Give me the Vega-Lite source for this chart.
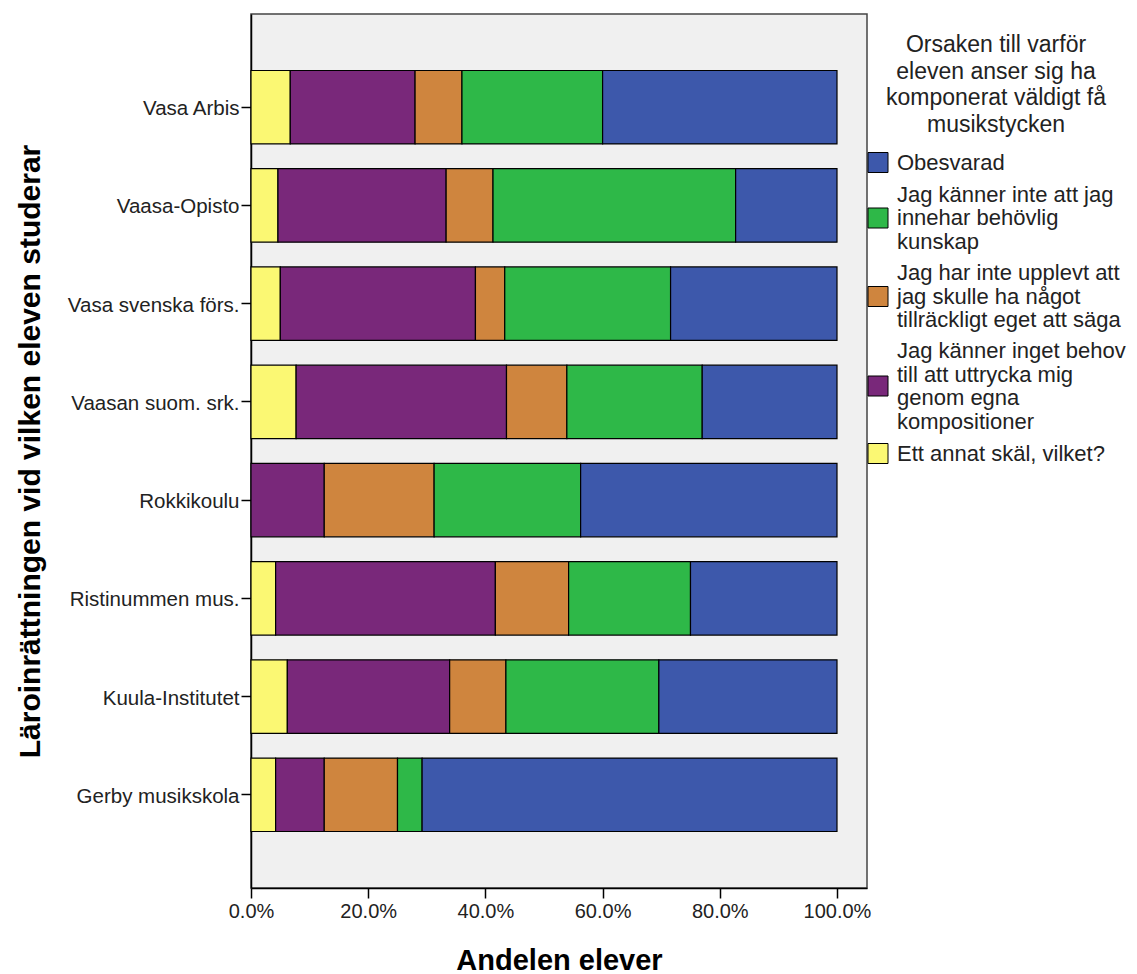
{
  "$schema": "https://vega.github.io/schema/vega-lite/v6.json",
  "width": 616,
  "height": 874,
  "autosize": "none",
  "padding": {"left": 251, "top": 14, "right": 270, "bottom": 86},
  "background": "white",
  "config": {
    "font": "Liberation Sans",
    "view": {"fill": "#F0F0F0", "stroke": "#444444", "strokeWidth": 1.5}
  },
  "data": {
    "values": [
      {"school": "Vasa Arbis", "reason": "Ett annat skäl, vilket?", "percent": 6.7, "stack_rank": 1},
      {"school": "Vasa Arbis", "reason": "Jag känner inget behov till att uttrycka mig genom egna kompositioner", "percent": 21.3, "stack_rank": 2},
      {"school": "Vasa Arbis", "reason": "Jag har inte upplevt att jag skulle ha något tillräckligt eget att säga", "percent": 8.0, "stack_rank": 3},
      {"school": "Vasa Arbis", "reason": "Jag känner inte att jag innehar behövlig kunskap", "percent": 24.0, "stack_rank": 4},
      {"school": "Vasa Arbis", "reason": "Obesvarad", "percent": 40.0, "stack_rank": 5},

      {"school": "Vaasa-Opisto", "reason": "Ett annat skäl, vilket?", "percent": 4.6, "stack_rank": 1},
      {"school": "Vaasa-Opisto", "reason": "Jag känner inget behov till att uttrycka mig genom egna kompositioner", "percent": 28.7, "stack_rank": 2},
      {"school": "Vaasa-Opisto", "reason": "Jag har inte upplevt att jag skulle ha något tillräckligt eget att säga", "percent": 8.0, "stack_rank": 3},
      {"school": "Vaasa-Opisto", "reason": "Jag känner inte att jag innehar behövlig kunskap", "percent": 41.4, "stack_rank": 4},
      {"school": "Vaasa-Opisto", "reason": "Obesvarad", "percent": 17.3, "stack_rank": 5},

      {"school": "Vasa svenska förs.", "reason": "Ett annat skäl, vilket?", "percent": 5.0, "stack_rank": 1},
      {"school": "Vasa svenska förs.", "reason": "Jag känner inget behov till att uttrycka mig genom egna kompositioner", "percent": 33.3, "stack_rank": 2},
      {"school": "Vasa svenska förs.", "reason": "Jag har inte upplevt att jag skulle ha något tillräckligt eget att säga", "percent": 5.0, "stack_rank": 3},
      {"school": "Vasa svenska förs.", "reason": "Jag känner inte att jag innehar behövlig kunskap", "percent": 28.3, "stack_rank": 4},
      {"school": "Vasa svenska förs.", "reason": "Obesvarad", "percent": 28.4, "stack_rank": 5},

      {"school": "Vaasan suom. srk.", "reason": "Ett annat skäl, vilket?", "percent": 7.7, "stack_rank": 1},
      {"school": "Vaasan suom. srk.", "reason": "Jag känner inget behov till att uttrycka mig genom egna kompositioner", "percent": 35.9, "stack_rank": 2},
      {"school": "Vaasan suom. srk.", "reason": "Jag har inte upplevt att jag skulle ha något tillräckligt eget att säga", "percent": 10.3, "stack_rank": 3},
      {"school": "Vaasan suom. srk.", "reason": "Jag känner inte att jag innehar behövlig kunskap", "percent": 23.1, "stack_rank": 4},
      {"school": "Vaasan suom. srk.", "reason": "Obesvarad", "percent": 23.0, "stack_rank": 5},

      {"school": "Rokkikoulu", "reason": "Jag känner inget behov till att uttrycka mig genom egna kompositioner", "percent": 12.5, "stack_rank": 2},
      {"school": "Rokkikoulu", "reason": "Jag har inte upplevt att jag skulle ha något tillräckligt eget att säga", "percent": 18.75, "stack_rank": 3},
      {"school": "Rokkikoulu", "reason": "Jag känner inte att jag innehar behövlig kunskap", "percent": 25.0, "stack_rank": 4},
      {"school": "Rokkikoulu", "reason": "Obesvarad", "percent": 43.75, "stack_rank": 5},

      {"school": "Ristinummen mus.", "reason": "Ett annat skäl, vilket?", "percent": 4.2, "stack_rank": 1},
      {"school": "Ristinummen mus.", "reason": "Jag känner inget behov till att uttrycka mig genom egna kompositioner", "percent": 37.5, "stack_rank": 2},
      {"school": "Ristinummen mus.", "reason": "Jag har inte upplevt att jag skulle ha något tillräckligt eget att säga", "percent": 12.5, "stack_rank": 3},
      {"school": "Ristinummen mus.", "reason": "Jag känner inte att jag innehar behövlig kunskap", "percent": 20.8, "stack_rank": 4},
      {"school": "Ristinummen mus.", "reason": "Obesvarad", "percent": 25.0, "stack_rank": 5},

      {"school": "Kuula-Institutet", "reason": "Ett annat skäl, vilket?", "percent": 6.2, "stack_rank": 1},
      {"school": "Kuula-Institutet", "reason": "Jag känner inget behov till att uttrycka mig genom egna kompositioner", "percent": 27.7, "stack_rank": 2},
      {"school": "Kuula-Institutet", "reason": "Jag har inte upplevt att jag skulle ha något tillräckligt eget att säga", "percent": 9.6, "stack_rank": 3},
      {"school": "Kuula-Institutet", "reason": "Jag känner inte att jag innehar behövlig kunskap", "percent": 26.1, "stack_rank": 4},
      {"school": "Kuula-Institutet", "reason": "Obesvarad", "percent": 30.4, "stack_rank": 5},

      {"school": "Gerby musikskola", "reason": "Ett annat skäl, vilket?", "percent": 4.2, "stack_rank": 1},
      {"school": "Gerby musikskola", "reason": "Jag känner inget behov till att uttrycka mig genom egna kompositioner", "percent": 8.3, "stack_rank": 2},
      {"school": "Gerby musikskola", "reason": "Jag har inte upplevt att jag skulle ha något tillräckligt eget att säga", "percent": 12.5, "stack_rank": 3},
      {"school": "Gerby musikskola", "reason": "Jag känner inte att jag innehar behövlig kunskap", "percent": 4.2, "stack_rank": 4},
      {"school": "Gerby musikskola", "reason": "Obesvarad", "percent": 70.8, "stack_rank": 5}
    ]
  },
  "mark": {"type": "bar", "stroke": "black", "strokeWidth": 1.2},
  "encoding": {
    "y": {
      "field": "school",
      "type": "nominal",
      "sort": null,
      "scale": {"paddingInner": 0.252, "paddingOuter": 0.575},
      "axis": {
        "title": "Läroinrättningen vid vilken eleven studerar",
        "domainColor": "black",
        "domainWidth": 1.5,
        "tickColor": "black",
        "tickWidth": 1.5,
        "tickSize": 10,
        "labelFontSize": 20.5,
        "labelColor": "#222222",
        "labelPadding": 2,
        "labelOffset": 2,
        "labelLimit": 300,
        "titleFontSize": 30,
        "titleFontWeight": "bold",
        "titleColor": "black",
        "titlePadding": 22
      }
    },
    "x": {
      "field": "percent",
      "type": "quantitative",
      "stack": "normalize",
      "scale": {"domain": [0, 1.0512], "nice": false, "zero": true},
      "axis": {
        "title": "Andelen elever",
        "values": [0, 0.2, 0.4, 0.6, 0.8, 1],
        "labelExpr": "format(datum.value, '.1%')",
        "labelFlush": false,
        "grid": false,
        "domainColor": "black",
        "domainWidth": 1.5,
        "tickColor": "black",
        "tickWidth": 1.5,
        "tickSize": 10,
        "labelFontSize": 20,
        "labelColor": "#222222",
        "labelPadding": 3,
        "titleFontSize": 29,
        "titleFontWeight": "bold",
        "titleColor": "black",
        "titlePadding": 25
      }
    },
    "color": {
      "field": "reason",
      "type": "nominal",
      "scale": {
        "domain": [
          "Obesvarad",
          "Jag känner inte att jag innehar behövlig kunskap",
          "Jag har inte upplevt att jag skulle ha något tillräckligt eget att säga",
          "Jag känner inget behov till att uttrycka mig genom egna kompositioner",
          "Ett annat skäl, vilket?"
        ],
        "range": ["#3D58AB", "#2EB848", "#CF853E", "#79287A", "#FBF873"]
      },
      "legend": {
        "orient": "none",
        "legendX": 616,
        "legendY": 20,
        "direction": "vertical",
        "title": ["Orsaken till varför", "eleven anser sig ha", "komponerat väldigt få", "musikstycken"],
        "titleFontSize": 23,
        "titleFontWeight": "normal",
        "titleColor": "#222222",
        "titleLineHeight": 26.5,
        "titleAnchor": "middle",
        "titleAlign": "center",
        "titlePadding": 15,
        "titleLimit": 400,
        "symbolType": "square",
        "symbolSize": 400,
        "symbolStrokeColor": "black",
        "symbolStrokeWidth": 1,
        "symbolOpacity": 1,
        "labelFontSize": 22,
        "labelColor": "#222222",
        "labelOffset": 8,
        "labelLimit": 400,
        "rowPadding": 8.5,
        "padding": 0,
        "labelExpr": "indexof(datum.label, 'kunskap') >= 0 ? ['Jag känner inte att jag', 'innehar behövlig', 'kunskap'] : indexof(datum.label, 'säga') >= 0 ? ['Jag har inte upplevt att', 'jag skulle ha något', 'tillräckligt eget att säga'] : indexof(datum.label, 'kompositioner') >= 0 ? ['Jag känner inget behov', 'till att uttrycka mig', 'genom egna', 'kompositioner'] : datum.label",
        "encoding": {
          "labels": {
            "lineHeight": {"value": 23.5},
            "dy": {
              "condition": [
                {"test": "indexof(datum.label, 'kompositioner') >= 0", "value": -35},
                {"test": "indexof(datum.label, 'kunskap') >= 0 || indexof(datum.label, 'säga') >= 0", "value": -23.5}
              ],
              "value": 0
            }
          }
        }
      }
    },
    "order": {"field": "stack_rank", "type": "quantitative"}
  }
}
